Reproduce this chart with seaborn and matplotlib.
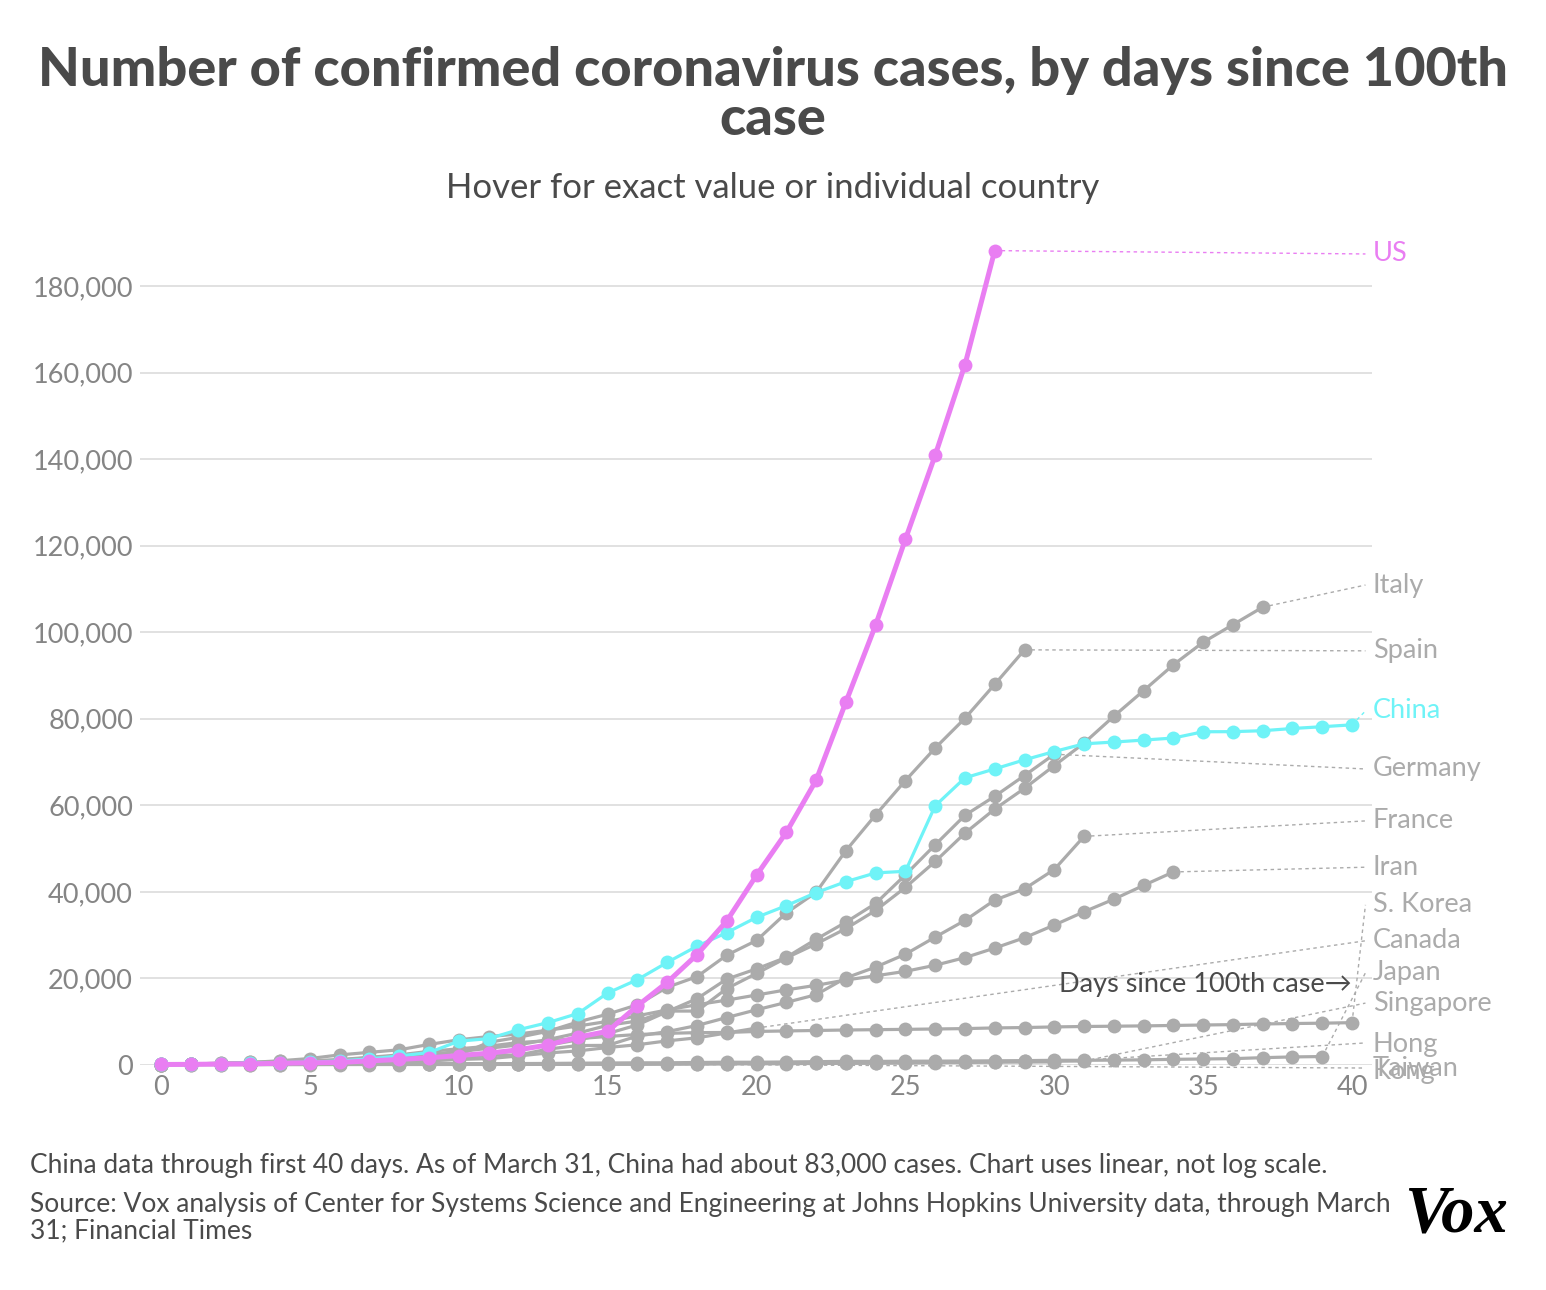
import numpy as np
import pandas as pd
import matplotlib
matplotlib.use('Agg')
import matplotlib.pyplot as plt
from matplotlib.ticker import FuncFormatter
import seaborn as sns

# Cumulative confirmed cases, day 0 = first day with 100+ cases
us_cases = [118, 149, 217, 262, 402, 518, 583, 959, 1281, 1663, 2179, 2727, 3499, 4632,
            6421, 7786, 13677, 19100, 25489, 33276, 43847, 53740, 65778, 83836, 101657,
            121478, 140886, 161807, 188172]
china_cases = [121, 198, 291, 440, 548, 643, 920, 1406, 2075, 2877, 5509, 6087, 8141, 9802,
               11891, 16630, 19716, 23707, 27440, 30587, 34110, 36814, 39829, 42354, 44386,
               44759, 59895, 66358, 68413, 70513, 72434, 74211, 74619, 75077, 75550, 77001,
               77022, 77241, 77754, 78166, 78600]
italy_cases = [155, 229, 322, 453, 655, 888, 1128, 1694, 2036, 2502, 3089, 3858, 4636, 5883,
               7375, 9172, 10149, 12462, 12462, 17660, 21157, 24747, 27980, 31506, 35713,
               41035, 47021, 53578, 59138, 63927, 69176, 74386, 80589, 86498, 92472, 97689,
               101739, 105792]
spain_cases = [120, 165, 222, 259, 400, 500, 673, 1073, 1695, 2277, 2277, 5232, 6391, 7798,
               9942, 11748, 13910, 17963, 20410, 25374, 28768, 35136, 39885, 49515, 57786,
               65719, 73235, 80110, 87956, 95923]
germany_cases = [130, 159, 196, 262, 482, 670, 799, 1040, 1176, 1457, 1908, 2078, 3675, 4585,
                 5795, 7272, 9257, 12327, 15320, 19848, 22213, 24873, 29056, 32986, 37323,
                 43938, 50871, 57695, 62095, 66885, 71808]
france_cases = [100, 130, 191, 204, 288, 380, 656, 959, 1136, 1219, 1794, 2293, 2293, 3681,
                4496, 4532, 6683, 7715, 9124, 10970, 12758, 14463, 16243, 20123, 22622, 25600,
                29551, 33402, 38105, 40708, 45170, 52827]
iran_cases = [139, 245, 388, 593, 978, 1501, 2336, 2922, 3513, 4747, 5823, 6566, 7161, 8042,
              9000, 10075, 11364, 12729, 13938, 14991, 16169, 17361, 18407, 19644, 20610,
              21638, 23049, 24811, 27017, 29406, 32332, 35408, 38309, 41495, 44605]
korea_cases = [104, 204, 433, 602, 833, 977, 1261, 1766, 2337, 3150, 3736, 4335, 5186, 5621,
               6088, 6593, 7041, 7314, 7478, 7513, 7755, 7869, 7979, 8086, 8162, 8236, 8320,
               8413, 8565, 8652, 8799, 8897, 8961, 9037, 9137, 9241, 9332, 9478, 9583, 9661,
               9786]
canada_cases = [108, 117, 193, 198, 252, 415, 478, 657, 800, 943, 1277, 1469, 2088, 2790,
                3251, 4042, 4682, 5576, 6280, 7398, 8527]
japan_cases = [105, 122, 147, 159, 170, 189, 214, 228, 241, 256, 274, 293, 331, 360, 420, 461,
               502, 511, 581, 639, 639, 701, 773, 839, 825, 878, 889, 924, 963, 1007, 1086,
               1086, 1128, 1193, 1307, 1387, 1468, 1693, 1866, 1953]
singapore_cases = [102, 106, 108, 110, 110, 117, 130, 138, 150, 150, 160, 178, 178, 200, 212,
                   226, 243, 266, 313, 345, 385, 432, 455, 509, 558, 631, 683, 732, 802, 844,
                   879, 926]
hongkong_cases = [100, 100, 101, 104, 105, 107, 108, 114, 115, 120, 126, 129, 134, 140, 145,
                  155, 162, 192, 208, 256, 273, 317, 356, 386, 410, 453, 518, 582, 641, 682, 714]
taiwan_cases = [108, 135, 153, 169, 195, 215, 235, 252, 267, 283, 298, 306, 322]

countries = ['Italy', 'Spain', 'Germany', 'France', 'Iran', 'S. Korea', 'Canada', 'Japan',
             'Singapore', 'Hong Kong', 'Taiwan', 'China', 'US']
series = [italy_cases, spain_cases, germany_cases, france_cases, iran_cases, korea_cases,
          canada_cases, japan_cases, singapore_cases, hongkong_cases, taiwan_cases,
          china_cases, us_cases]
label_names = ['Italy', 'Spain', 'Germany', 'France', 'Iran', 'S. Korea', 'Canada', 'Japan',
               'Singapore', 'Hong\nKong', 'Taiwan', 'China', 'US']

# layout: where the end labels sit on the right (in case units)
label_y = [110900, 95700, 68400, 56400, 45700, 37000, 28700, 21300, 14300, 5100, -700,
           81800, 187400]

GRAY = '#ababab'
CYAN = '#6ff3f7'
PINK = '#e97ef2'
TEXT = '#4a4a4a'
colors = {c: GRAY for c in countries}
colors['China'] = CYAN
colors['US'] = PINK

rows = []
for name, vals in zip(countries, series):
    for day, v in enumerate(vals):
        rows.append((name, day, v))
df = pd.DataFrame(rows, columns=['country', 'day', 'cases'])

sns.set_style('white')
plt.rcParams['font.family'] = ['Lato', 'DejaVu Sans']

W, H = 1546, 1290
fig = plt.figure(figsize=(W / 100, H / 100), dpi=100)
ax = fig.add_axes([140 / W, 1 - 1065 / H, 1232 / W, (1065 - 242.7) / H])

grays = df[~df.country.isin(['China', 'US'])]
sns.lineplot(data=grays, x='day', y='cases', hue='country', palette=colors, marker='o',
             markersize=10, markeredgewidth=0, linewidth=2.3, legend=False, errorbar=None,
             ax=ax)
sns.lineplot(data=df[df.country == 'China'], x='day', y='cases', color=CYAN, marker='o',
             markersize=10, markeredgewidth=0, linewidth=2.3, errorbar=None, ax=ax)
sns.lineplot(data=df[df.country == 'US'], x='day', y='cases', color=PINK, marker='o',
             markersize=10, markeredgewidth=0, linewidth=3.6, errorbar=None, ax=ax)
for ln in ax.lines:
    ln.set_clip_on(False)

# leader lines and end labels
for name, vals, lab, ly in zip(countries, series, label_names, label_y):
    col = colors[name]
    ax.plot([len(vals) - 1, 40.45], [vals[-1], ly], color=col, lw=1.0,
            ls=(0, (2.5, 2.5)), clip_on=False, zorder=1)
    ty = ly - 3500 if '\n' in lab else ly
    ax.text(40.7, ty, lab, color=col, fontsize=19.5, ha='left', va='center',
            linespacing=1.1, clip_on=False)

ax.text(40, 18500, 'Days since 100th case\u2192', color=TEXT, fontsize=19.5, ha='right',
        va='center', family=['Lato', 'DejaVu Sans'])

ax.set_xlim(-0.705, 40.67)
ax.set_ylim(0, 190000)
ax.set_xticks(range(0, 41, 5))
ax.set_yticks(range(0, 180001, 20000))
ax.yaxis.set_major_formatter(FuncFormatter(lambda v, p: f'{int(v):,}'))
ax.tick_params(axis='both', length=0, labelsize=19.5, labelcolor='#858585')
ax.tick_params(axis='y', pad=5)
ax.tick_params(axis='x', pad=7)
ax.set_xlabel('')
ax.set_ylabel('')
ax.grid(axis='y', color='#dedede', lw=1.3)
ax.grid(axis='x', visible=False)
ax.set_axisbelow(True)
sns.despine(ax=ax, left=True, bottom=True)

fig.text(0.5, 1 - 95 / H, 'Number of confirmed coronavirus cases, by days since 100th\ncase',
         ha='center', va='center', fontsize=39, fontweight='black', color=TEXT,
         linespacing=1.02)
fig.text(0.5, 1 - 188 / H, 'Hover for exact value or individual country', ha='center',
         va='center', fontsize=25, color=TEXT)

note = ('China data through first 40 days. As of March 31, China had about 83,000 cases. '
        'Chart uses linear, not log scale.')
source = ('Source: Vox analysis of Center for Systems Science and Engineering at Johns '
          'Hopkins University data, through March\n31; Financial Times')
fig.text(30 / W, 1 - 1165 / H, note, ha='left', va='center', fontsize=19, color=TEXT)
fig.text(30 / W, 1 - 1192 / H, source, ha='left', va='top', fontsize=19, color=TEXT,
         linespacing=1.08)
fig.text(1508 / W, 1 - 1215 / H, 'Vox', ha='right', va='center', fontsize=48,
         family='Liberation Serif', fontweight='bold', style='italic', color='black')

fig.savefig('out.png', dpi=100)
